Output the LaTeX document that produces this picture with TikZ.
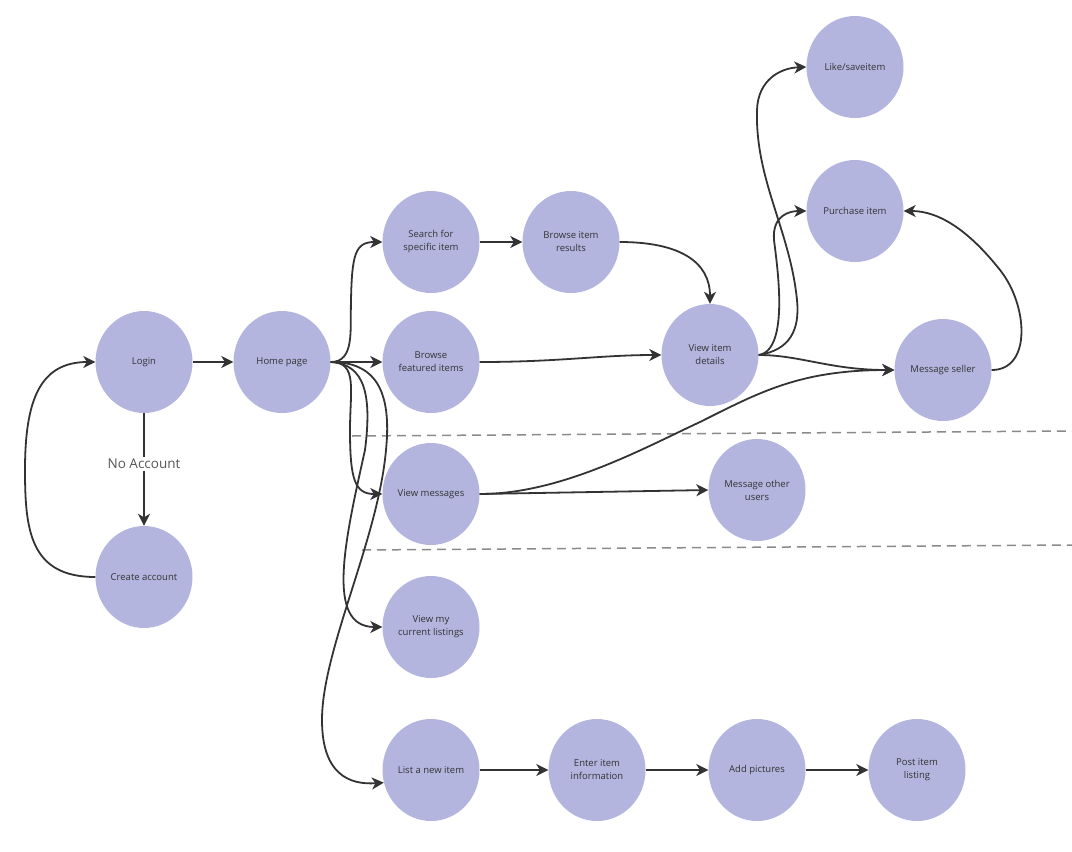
\documentclass[tikz,border=0pt]{standalone}
\usepackage{fontspec}
\setmainfont{Open Sans}
\usetikzlibrary{shapes.geometric,arrows.meta}
\definecolor{nodefill}{HTML}{B3B5DF}
\definecolor{linec}{HTML}{333333}
\definecolor{dashc}{HTML}{8A8A8A}
\definecolor{labc}{HTML}{555555}
\begin{document}
\begin{tikzpicture}[x=1pt,y=-1pt,
  st/.style={ellipse, fill=nodefill, minimum width=97pt, minimum height=102pt, inner sep=0pt, align=center, font=\fontsize{9.5}{13}\selectfont, text=linec},
  conn/.style={draw=linec, line width=1.8pt, -{Stealth[length=12pt,width=12pt,inset=3.5pt]}},
  sep/.style={draw=dashc, line width=1.5pt, dash pattern=on 9pt off 6pt},
  lab/.style={fill=white, inner sep=2pt, text=labc, font=\fontsize{13.5}{16}\selectfont}]
\useasboundingbox (0,0) rectangle (1072,852);
% separators
\draw[sep] (352,436) -- (1072,431);
\draw[sep] (362,550) -- (1072,545);
% nodes
\node[st] (login) at (144,362) {Login};
\node[st] (create) at (144,577) {Create account};
\node[st] (home) at (282,362) {Home page};
\node[st] (search) at (431,242) {Search for\\specific item};
\node[st] (results) at (571,242) {Browse item\\results};
\node[st] (featured) at (431,362) {Browse\\featured items};
\node[st] (view) at (710,355) {View item\\details};
\node[st] (like) at (855,67) {Like/saveitem};
\node[st] (purchase) at (855,211) {Purchase item};
\node[st] (seller) at (943,370) {Message seller};
\node[st] (messages) at (431,494) {View messages};
\node[st] (other) at (757,490) {Message other\\users};
\node[st] (listings) at (431,627) {View my\\current listings};
\node[st] (newitem) at (431,770) {List a new item};
\node[st] (info) at (597,770) {Enter item\\information};
\node[st] (pics) at (757,770) {Add pictures};
\node[st] (post) at (917,770) {Post item\\listing};
% connectors
\draw[conn] (login.east) -- (home.west);
\draw[conn] (login.south) -- node[lab, pos=0.45] {No Account} (create.north);
\draw[conn] (create.west) .. controls (30,577) and (25,530) .. (25,470)
  .. controls (25,400) and (40,362) .. (login.west);
\draw[conn] (home.east) .. controls (355,362) and (350,330) .. (351,300)
  .. controls (352,255) and (355,242) .. (search.west);
\draw[conn] (home.east) -- (featured.west);
\draw[conn] (home.east) .. controls (358,362) and (350,390) .. (350,430)
  .. controls (350,480) and (355,494) .. (messages.west);
\draw[conn] (home.east) .. controls (365,364) and (372,395) .. (365,450)
  .. controls (345,540) and (325,627) .. (listings.west);
\draw[conn] (home.east) .. controls (375,362) and (392,390) .. (386,450)
  .. controls (378,540) and (322,650) .. (322,720)
  .. controls (322,775) and (350,785) .. (newitem.195);
\draw[conn] (search.east) -- (results.west);
\draw[conn] (results.east) .. controls (680,242) and (710,262) .. (view.north);
\draw[conn] (featured.east) .. controls (560,362) and (600,355) .. (view.west);
\draw[conn] (view.east) .. controls (790,350) and (800,330) .. (797,300)
  .. controls (790,230) and (755,180) .. (757,110)
  .. controls (758,80) and (780,68) .. (like.west);
\draw[conn] (view.east) .. controls (790,350) and (777,265) .. (774,240)
  .. controls (772,215) and (790,211) .. (purchase.west);
\draw[conn] (view.east) .. controls (800,355) and (830,370) .. (seller.west);
\draw[conn] (seller.east) .. controls (1032,370) and (1028,305) .. (1000,270)
  .. controls (970,232) and (940,211) .. (purchase.east);
\draw[conn] (messages.east) .. controls (560,494) and (640,450) .. (700,422)
  .. controls (760,392) and (800,370) .. (seller.west);
\draw[conn] (messages.east) -- (other.west);
\draw[conn] (newitem.east) -- (info.west);
\draw[conn] (info.east) -- (pics.west);
\draw[conn] (pics.east) -- (post.west);
\end{tikzpicture}
\end{document}
